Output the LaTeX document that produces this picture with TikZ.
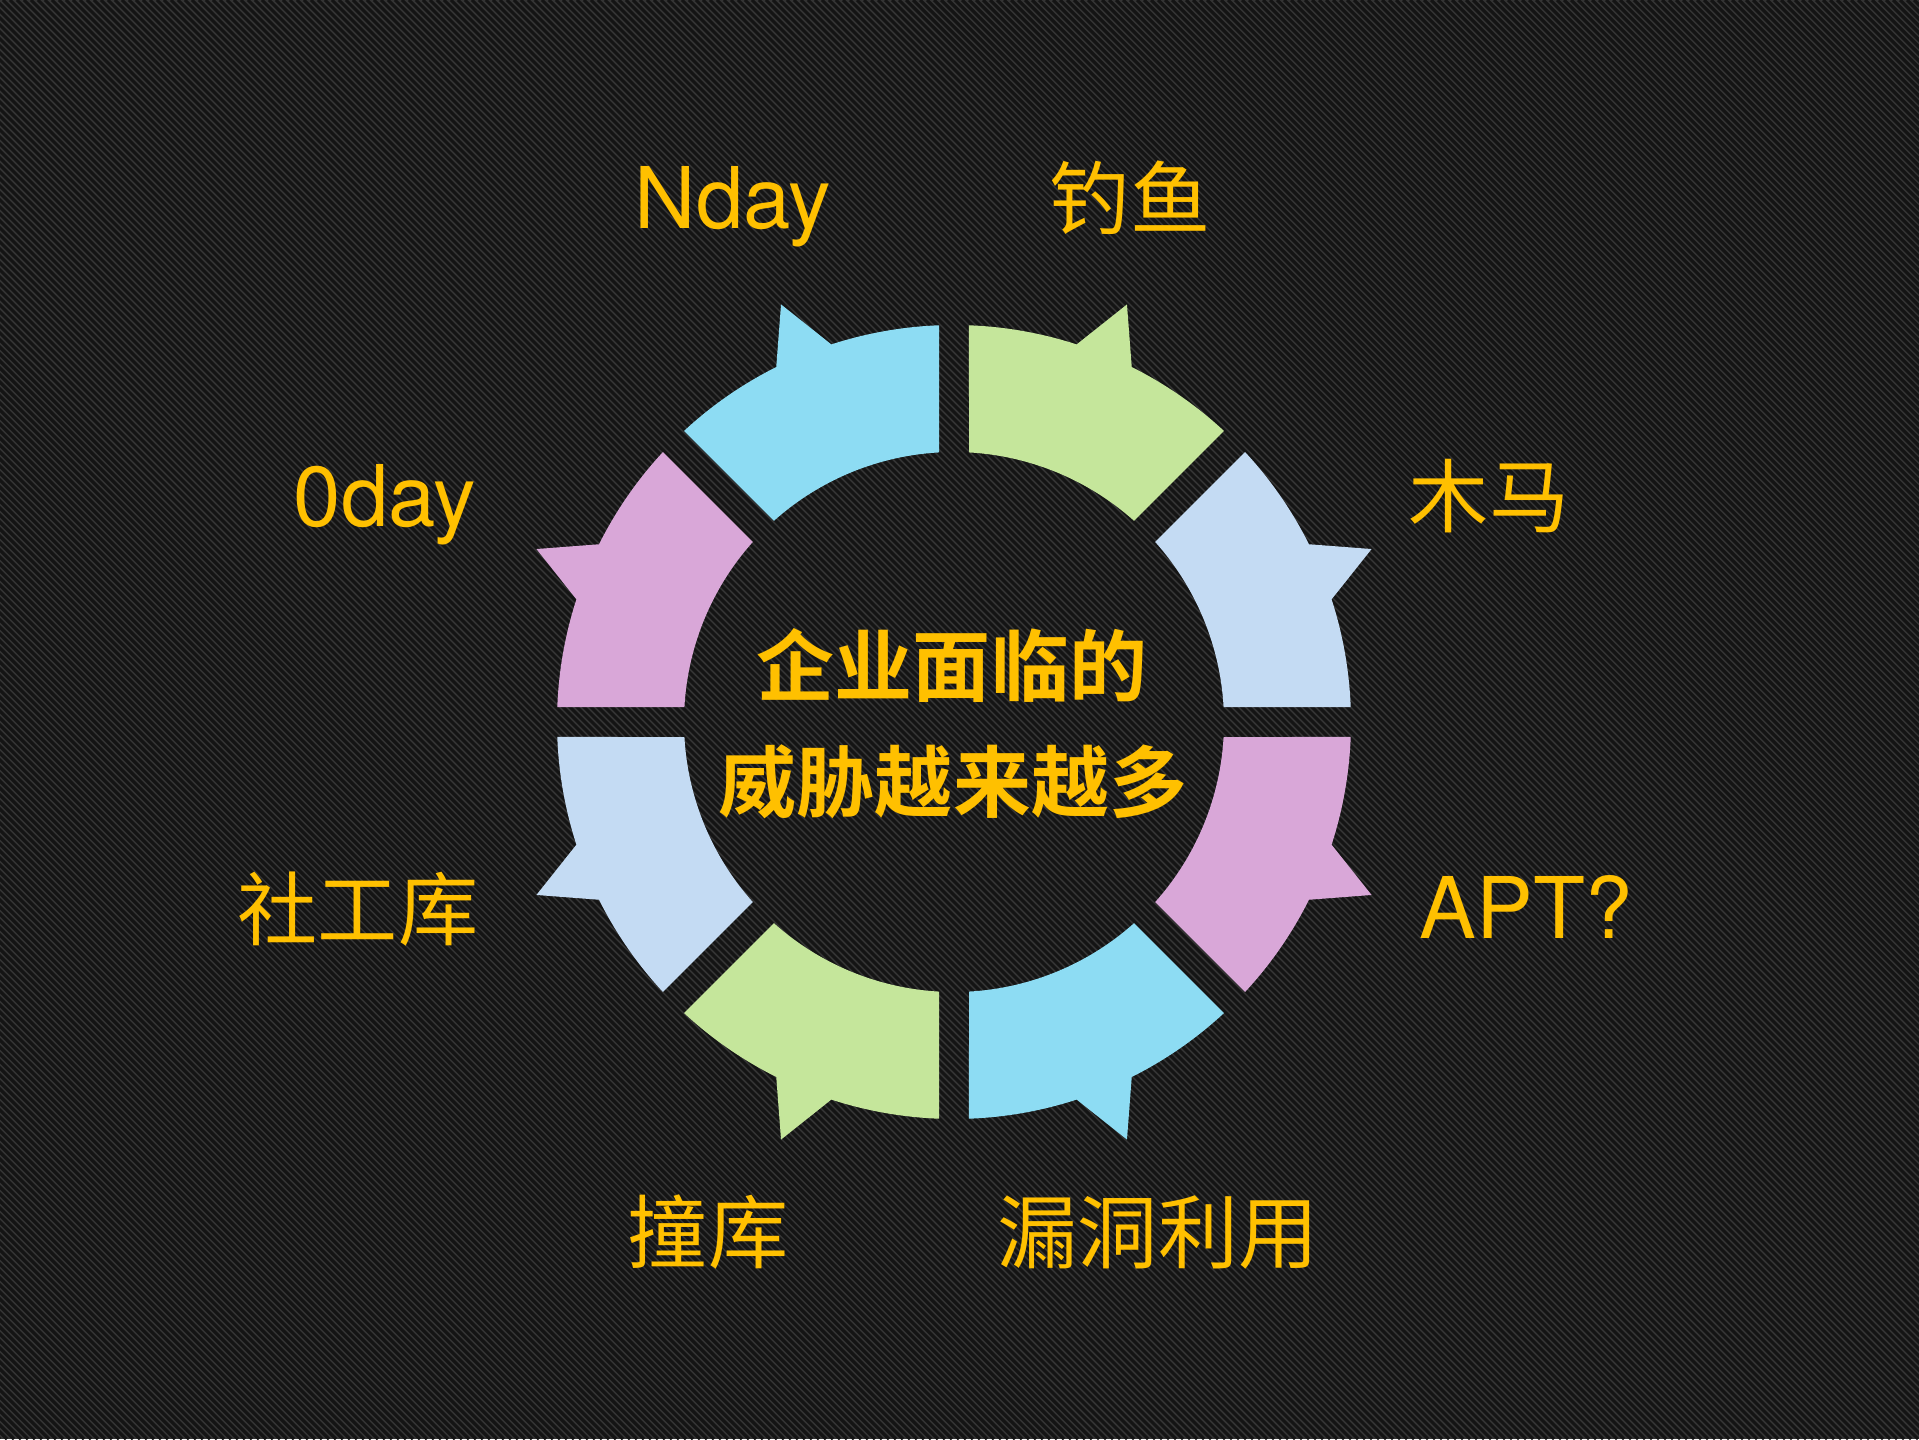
\documentclass[tikz,border=0pt]{standalone}
\usepackage{fontspec}
\newfontfamily\cjkfont{Noto Sans CJK SC}[BoldFont={Noto Sans CJK SC Bold}]
\newfontfamily\latinfont{TeX Gyre Heros}
\definecolor{bgbase}{HTML}{343434}
\definecolor{bgstripe}{HTML}{141414}
\definecolor{segcyan}{HTML}{8DDCF3}
\definecolor{seggreen}{HTML}{C5E69B}
\definecolor{segblue}{HTML}{C4DBF3}
\definecolor{segpink}{HTML}{D9A7D8}
\definecolor{labelgold}{HTML}{FFC000}
\tikzset{
tag/.style={anchor=base, inner sep=0pt, text=labelgold,
	font=\fontsize{22.8pt}{27pt}\selectfont\cjkfont},
latintag/.style={tag, font=\fontsize{24.2pt}{29pt}\selectfont\latinfont},
hub/.style={tag, font=\fontsize{22.2pt}{27pt}\selectfont\cjkfont\bfseries},
stripe/.style={bgstripe, line width=0.9pt}
}
\newcommand{\segnearh}{(3.185:270) -- (2.165:397)
	arc[start angle=2.165, end angle=18, radius=397] -- (22.5:452) -- (26.6:397)
	arc[start angle=26.6, end angle=42.835, radius=397] -- (41.815:270)
	arc[start angle=41.815, end angle=3.185, radius=270] -- cycle}
\newcommand{\segnearv}{(86.815:270) -- (87.835:397)
	arc[start angle=87.835, end angle=72, radius=397] -- (67.5:452) -- (63.4:397)
	arc[start angle=63.4, end angle=47.165, radius=397] -- (48.185:270)
	arc[start angle=48.185, end angle=86.815, radius=270] -- cycle}

\begin{document}
\begin{tikzpicture}[x=0.01cm, y=0.01cm]
	\useasboundingbox (-954,-717) rectangle (965,722);
	\fill[bgbase] (-954,-717) rectangle (965,722);
	\begin{scope}
		\clip (-954,-717) rectangle (965,722);
		\foreach \i in {0,...,480}
			\draw[stripe] (\i*7-2393,722) -- ++(1439,-1439);
	\end{scope}
	\foreach \sx/\sy/\ch/\cv in {1/1/segblue/seggreen, -1/1/segpink/segcyan,
		-1/-1/segblue/seggreen, 1/-1/segpink/segcyan}{
		\begin{scope}[xscale=\sx, yscale=\sy]
			\fill[\ch] \segnearh;
			\fill[\cv] \segnearv;
		\end{scope}
	}
	\node[latintag] (nday) at (-221,493) {Nday};
	\node[tag] (phishing) at (176,493) {钓鱼};
	\node[latintag] (oday) at (-569,196) {0day};
	\node[tag] (trojan) at (535,196) {木马};
	\node[tag] (social) at (-596,-217) {社工库};
	\node[latintag] (apt) at (572,-216) {APT?};
	\node[tag] (stuffing) at (-246,-540) {撞库};
	\node[tag] (exploit) at (204,-540) {漏洞利用};
	\node[hub] (hubtop) at (-2,27) {企业面临的};
	\node[hub] (hubbottom) at (-1,-89) {威胁越来越多};
\end{tikzpicture}
\end{document}
